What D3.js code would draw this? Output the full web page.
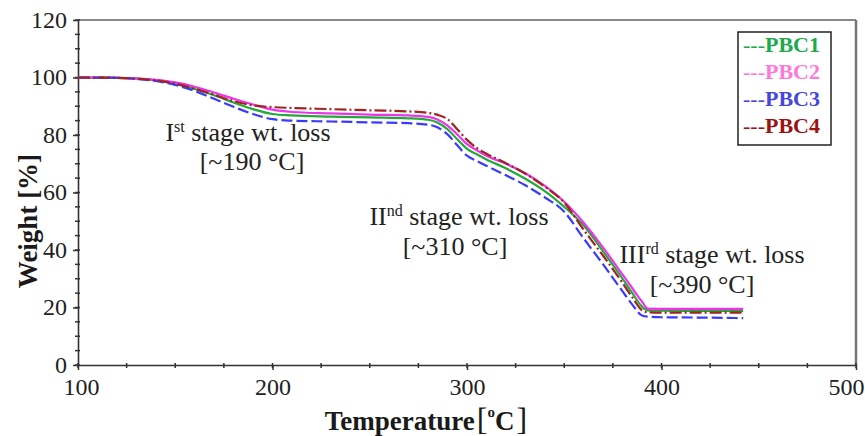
<!DOCTYPE html>
<html><head><meta charset="utf-8">
<script src="https://cdn.jsdelivr.net/npm/d3@7"></script>
<style>body{margin:0;background:#fff}svg{display:block}</style>
</head><body>
<svg id="c" width="865" height="436"></svg>
<script>
const temps = [100,120,130,140,150,160,170,180,190,200,210,230,250,270,280,285,290,295,300,305,310,320,330,340,350,360,370,380,385,390,393,400,420,442];
const pbc1 = [100,99.9,99.6,99,97.8,96,93.8,91.3,89,87.3,86.8,86.4,86.1,85.8,85.3,84.3,82,78.5,75.2,73.3,71.5,68.4,64.8,60.5,55,48.5,39.5,30,25,20.3,19,18.9,18.8,18.8];
const pbc2 = [100,99.9,99.7,99.2,98.3,96.8,94.8,92.6,90.6,88.8,88,87.5,87.1,86.8,86.3,85.3,83.3,80.2,76.8,74.7,72.8,70,66.7,62.3,56.8,49.5,40.8,31.4,26.7,22,19.6,19.5,19.5,19.5];
const pbc3 = [100,99.9,99.5,98.8,97.4,95.3,92.6,89.8,87.3,85.5,85,84.7,84.4,84.1,83.6,82.6,80.2,76.4,72.8,71,69.3,66,62.5,58.3,53.3,44,35,25.6,21,17.2,16.8,16.6,16.5,16.3];
const pbc4 = [100,99.9,99.6,99,97.9,96.1,94,91.8,90.3,89.7,89.4,89,88.6,88.2,87.7,87,85.5,82,78.3,75.5,73.5,70.2,66.5,62,56.5,47,38,28.5,23.5,19,18.3,18.2,18.2,18.2];
const seriesNames = ["PBC1","PBC2","PBC3","PBC4"];
const xTicks = [100,200,300,400,500];
const yTicks = [0,20,40,60,80,100,120];

const lineColors = ["#23a83a","#ee33ee","#3a3aff","#a32222"];
const textColors = ["#1daa4c","#ff77dd","#4646dd","#9a1414"];
const dashes = [null,null,"11,4","12,3,2,3"];
const seriesVals = [pbc1,pbc2,pbc3,pbc4];

const svg = d3.select("#c");
const x = d3.scaleLinear().domain([100,500]).range([78,856]);
const y = d3.scaleLinear().domain([0,120]).range([365,20]);
const serif = "'Liberation Serif','Times New Roman',serif";

// frame top/right
svg.append("line").attr("x1",78).attr("x2",856).attr("y1",20).attr("y2",20).attr("stroke","#888").attr("stroke-width",2);
svg.append("line").attr("x1",856).attr("x2",856).attr("y1",20).attr("y2",365).attr("stroke","#777").attr("stroke-width",2.5);

// minor ticks
const xMinor = d3.range(100,501,25);
const yMinor = d3.range(0,121,5);
svg.append("g").selectAll("line").data(xMinor).join("line")
  .attr("x1",d=>x(d)).attr("x2",d=>x(d)).attr("y1",y(0)-2).attr("y2",y(0)+3)
  .attr("stroke","#333").attr("stroke-width",1.5);
svg.append("g").selectAll("line").data(yMinor).join("line")
  .attr("y1",d=>y(d)).attr("y2",d=>y(d)).attr("x1",x(100)-3).attr("x2",x(100)+2)
  .attr("stroke","#333").attr("stroke-width",1.5);

// axes
const xAxis = svg.append("g").attr("transform",`translate(0,${y(0)})`)
  .call(d3.axisBottom(x).tickValues(xTicks).tickSize(5).tickSizeOuter(0).tickPadding(8));
const yAxis = svg.append("g").attr("transform",`translate(${x(100)},0)`)
  .call(d3.axisLeft(y).tickValues(yTicks).tickSize(5).tickSizeOuter(0).tickPadding(6));
[xAxis,yAxis].forEach(g=>{
  g.select(".domain").attr("stroke","#333").attr("stroke-width",1.6);
  g.selectAll(".tick line").attr("stroke","#333").attr("stroke-width",1.5);
  g.selectAll("text").attr("font-family",serif).attr("font-size",24).attr("fill","#222");
});
yAxis.selectAll(".tick text").attr("dy","0.3em");
xAxis.selectAll(".tick text").filter(d=>d===500).attr("dx",-10);
xAxis.selectAll(".tick text").filter(d=>d===100).attr("dx",3);

// lines
const line = d3.line().x((d,i)=>x(temps[i])).y(d=>y(d)).curve(d3.curveMonotoneX);
seriesVals.forEach((vals,k)=>{
  svg.append("path").datum(vals).attr("d",line)
    .attr("fill","none").attr("stroke",lineColors[k]).attr("stroke-width",2.2)
    .attr("stroke-dasharray",dashes[k]);
});

// annotations
const notes = [
  {cx:248,y1:141,cx2:252,y2:170,base:"I",sup:"st",rest:" stage wt. loss",l2:"[~190 °C]"},
  {cx:459,y1:225,cx2:455,y2:255,base:"II",sup:"nd",rest:" stage wt. loss",l2:"[~310 °C]"},
  {cx:712,y1:263,cx2:702,y2:293,base:"III",sup:"rd",rest:" stage wt. loss",l2:"[~390 °C]"}
];
notes.forEach(n=>{
  const t = svg.append("text").attr("x",n.cx).attr("y",n.y1).attr("text-anchor","middle")
    .attr("font-family",serif).attr("font-size",26).attr("fill","#222");
  t.append("tspan").text(n.base);
  t.append("tspan").attr("dy",-9).attr("font-size",16).text(n.sup);
  t.append("tspan").attr("dy",9).text(n.rest);
  svg.append("text").attr("x",n.cx2).attr("y",n.y2).attr("text-anchor","middle")
    .attr("font-family",serif).attr("font-size",26).attr("fill","#222").text(n.l2);
});

// legend
svg.append("rect").attr("x",738).attr("y",32).attr("width",93).attr("height",113)
  .attr("fill","#fff").attr("stroke","#222").attr("stroke-width",1.5);
seriesNames.forEach((s,k)=>{
  const t = svg.append("text").attr("x",743).attr("y",52+k*27)
    .attr("font-family",serif).attr("font-size",22).attr("font-weight","bold")
    .attr("fill",textColors[k]);
  t.append("tspan").attr("font-weight","normal").text("---");
  t.append("tspan").text(s);
});

// axis titles
svg.append("text").attr("transform",`translate(37,221) rotate(-90)`).attr("text-anchor","middle")
  .attr("font-family",serif).attr("font-size",27).attr("font-weight","bold").attr("fill","#1a1a1a")
  .text("Weight [%]");
const xt = svg.append("text").attr("x",426).attr("y",430).attr("text-anchor","middle")
  .attr("font-family",serif).attr("font-size",27).attr("font-weight","bold").attr("fill","#1a1a1a");
xt.append("tspan").text("Temperature");
xt.append("tspan").attr("font-weight","normal").attr("font-size",32).attr("dx",2).text("[");
xt.append("tspan").attr("font-size",15).attr("dy",-13).text("o");
xt.append("tspan").attr("dy",13).text("C");
xt.append("tspan").attr("font-weight","normal").attr("font-size",32).attr("dx",2).text("]");
</script>
</body></html>
